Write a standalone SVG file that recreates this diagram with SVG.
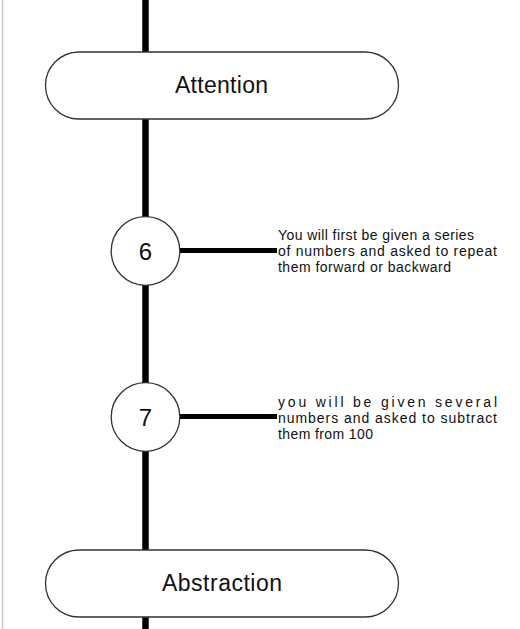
<svg xmlns="http://www.w3.org/2000/svg" width="520" height="629" viewBox="0 0 520 629">
<style>
.pill{fill:#fff;stroke:#333;stroke-width:1.3}
.circ{fill:#fff;stroke:#333;stroke-width:1.3}
.big{font-family:"Liberation Sans",Arial,sans-serif;font-size:23px;fill:#111}
.num{font-family:"Liberation Sans",Arial,sans-serif;font-size:24px;fill:#111;text-anchor:middle}
.desc{font-family:"Liberation Sans",Arial,sans-serif;font-size:14px;fill:#111}
.spine{stroke:#000;stroke-width:6.5;fill:none}
.branch{stroke:#000;stroke-width:5;fill:none}
</style>
<rect x="0" y="0" width="520" height="629" fill="#fff"/>
<line x1="2.5" y1="0" x2="2.5" y2="629" stroke="#c8c8c8" stroke-width="1.5"/>
<g id="connectors">
<line class="spine" x1="145.5" y1="0" x2="145.5" y2="52"/>
<line class="spine" x1="145.5" y1="119" x2="145.5" y2="217"/>
<line class="spine" x1="145.5" y1="285" x2="145.5" y2="383"/>
<line class="spine" x1="145.5" y1="451" x2="145.5" y2="550"/>
<line class="spine" x1="145.5" y1="617" x2="145.5" y2="629"/>
<line class="branch" x1="180" y1="250.5" x2="277" y2="250.5"/>
<line class="branch" x1="180" y1="416.5" x2="277" y2="416.5"/>
</g>
<g id="attention">
<rect class="pill" x="45.5" y="52" width="353" height="67" rx="33.5" ry="33.5"/>
<text class="big" x="175" y="93" textLength="93" lengthAdjust="spacing">Attention</text>
</g>
<g id="step6">
<circle class="circ" cx="145.5" cy="251" r="34.3"/>
<text class="num" x="145.5" y="259.5">6</text>
</g>
<g id="desc6">
<text class="desc" x="278" y="240" textLength="196" lengthAdjust="spacing">You will first be given a series</text>
<text class="desc" x="278" y="256" textLength="219" lengthAdjust="spacing">of numbers and asked to repeat</text>
<text class="desc" x="278" y="272" textLength="173" lengthAdjust="spacing">them forward or backward</text>
</g>
<g id="step7">
<circle class="circ" cx="145.5" cy="417" r="34.3"/>
<text class="num" x="145.5" y="425.5">7</text>
</g>
<g id="desc7">
<text class="desc" x="278" y="407" textLength="219" lengthAdjust="spacing">you will be given several</text>
<text class="desc" x="278" y="423" textLength="219" lengthAdjust="spacing">numbers and asked to subtract</text>
<text class="desc" x="278" y="439" textLength="95" lengthAdjust="spacing">them from 100</text>
</g>
<g id="abstraction">
<rect class="pill" x="45.5" y="550" width="353" height="67" rx="33.5" ry="33.5"/>
<text class="big" x="162" y="591" textLength="120" lengthAdjust="spacing">Abstraction</text>
</g>
</svg>
